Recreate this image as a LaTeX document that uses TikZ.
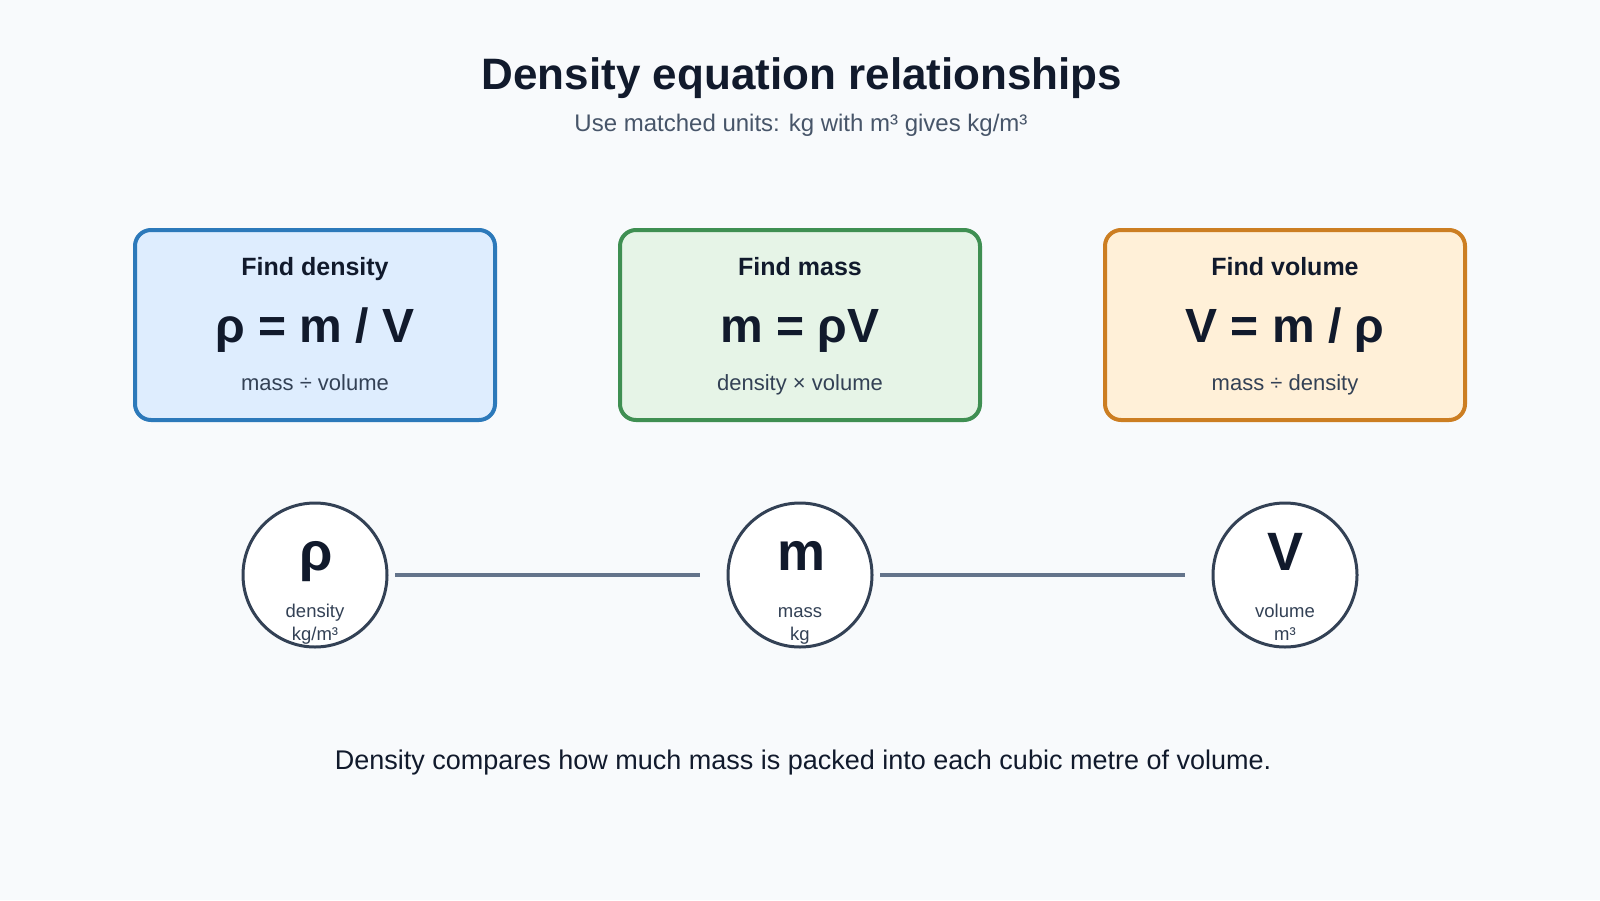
\documentclass[tikz,border=0pt]{standalone}
\usepackage{fontspec}
\setmainfont{Liberation Sans}
\definecolor{bg}{HTML}{F8FAFC}
\definecolor{ink}{HTML}{111A2C}
\definecolor{subink}{HTML}{334155}
\definecolor{graytext}{HTML}{475569}
\definecolor{bluefill}{HTML}{DEEDFE}
\definecolor{bluestroke}{HTML}{2C79BA}
\definecolor{greenfill}{HTML}{E6F4E7}
\definecolor{greenstroke}{HTML}{3F8F52}
\definecolor{orangefill}{HTML}{FFF0D8}
\definecolor{orangestroke}{HTML}{CC7E22}
\definecolor{circstroke}{HTML}{334155}
\definecolor{linkcol}{HTML}{64748B}
\tikzset{
  eqbox/.style={draw, rounded corners=16pt, line width=4pt, minimum width=360pt, minimum height=190pt, inner sep=0pt},
  boxhead/.style={anchor=base, text=ink, font=\fontsize{25}{29}\selectfont\bfseries},
  boxeq/.style={anchor=base, text=ink, font=\fontsize{48}{55}\selectfont\bfseries},
  boxsub/.style={anchor=base, text=subink, font=\fontsize{22}{26}\selectfont},
  qcirc/.style={circle, draw=circstroke, fill=white, line width=3pt, minimum size=144pt, inner sep=0pt},
  qsym/.style={anchor=base, text=ink, font=\fontsize{54}{60}\selectfont\bfseries},
  qlab/.style={anchor=base, text=subink, font=\fontsize{18.5}{22}\selectfont},
  link/.style={draw=linkcol, line width=3.5pt}
}
\begin{document}
\begin{tikzpicture}[x=1pt,y=-1pt]
\useasboundingbox[fill=bg] (0,0) rectangle (1600,900);

\node[anchor=base, text=ink, font=\fontsize{44}{50}\selectfont\bfseries] (title) at (802,89) {Density equation relationships};
\node[anchor=base, text=graytext, font=\fontsize{24}{28}\selectfont] (subtitle) at (801,131) {Use matched units: kg with m³ gives kg/m³};

% boxes
\node[eqbox, fill=bluefill, draw=bluestroke] (b1) at (315,325) {};
\node[eqbox, fill=greenfill, draw=greenstroke] (b2) at (800,325) {};
\node[eqbox, fill=orangefill, draw=orangestroke] (b3) at (1285,325) {};

\node[boxhead] (h1) at (315,275) {Find density};
\node[boxeq]   (e1) at (315,342) {ρ = m / V};
\node[boxsub]  (s1) at (315,390.5) {mass ÷ volume};

\node[boxhead] (h2) at (800,275) {Find mass};
\node[boxeq]   (e2) at (800,342) {m = ρV};
\node[boxsub]  (s2) at (800,390.5) {density × volume};

\node[boxhead] (h3) at (1285,275) {Find volume};
\node[boxeq]   (e3) at (1285,342) {V = m / ρ};
\node[boxsub]  (s3) at (1285,390.5) {mass ÷ density};

% circles
\node[qcirc] (c1) at (315,575) {};
\node[qcirc] (c2) at (800,575) {};
\node[qcirc] (c3) at (1285,575) {};

\draw[link] ([xshift=6.5pt]c1.east) -- ([xshift=-26.5pt]c2.west);
\draw[link] ([xshift=6.5pt]c2.east) -- ([xshift=-26.5pt]c3.west);

\node[qsym] (y1) at (316,570) {ρ};
\node[qlab] (l1a) at (315,617) {density};
\node[qlab] (l1b) at (315,640) {kg/m³};

\node[qsym] (y2) at (801,570) {m};
\node[qlab] (l2a) at (800,617) {mass};
\node[qlab] (l2b) at (800,640) {kg};

\node[qsym] (y3) at (1285,570) {V};
\node[qlab] (l3a) at (1285,617) {volume};
\node[qlab] (l3b) at (1285,640) {m³};

\node[anchor=base, text=ink, font=\fontsize{27}{32}\selectfont] (foot) at (803,769) {Density compares how much mass is packed into each cubic metre of volume.};
\end{tikzpicture}
\end{document}
